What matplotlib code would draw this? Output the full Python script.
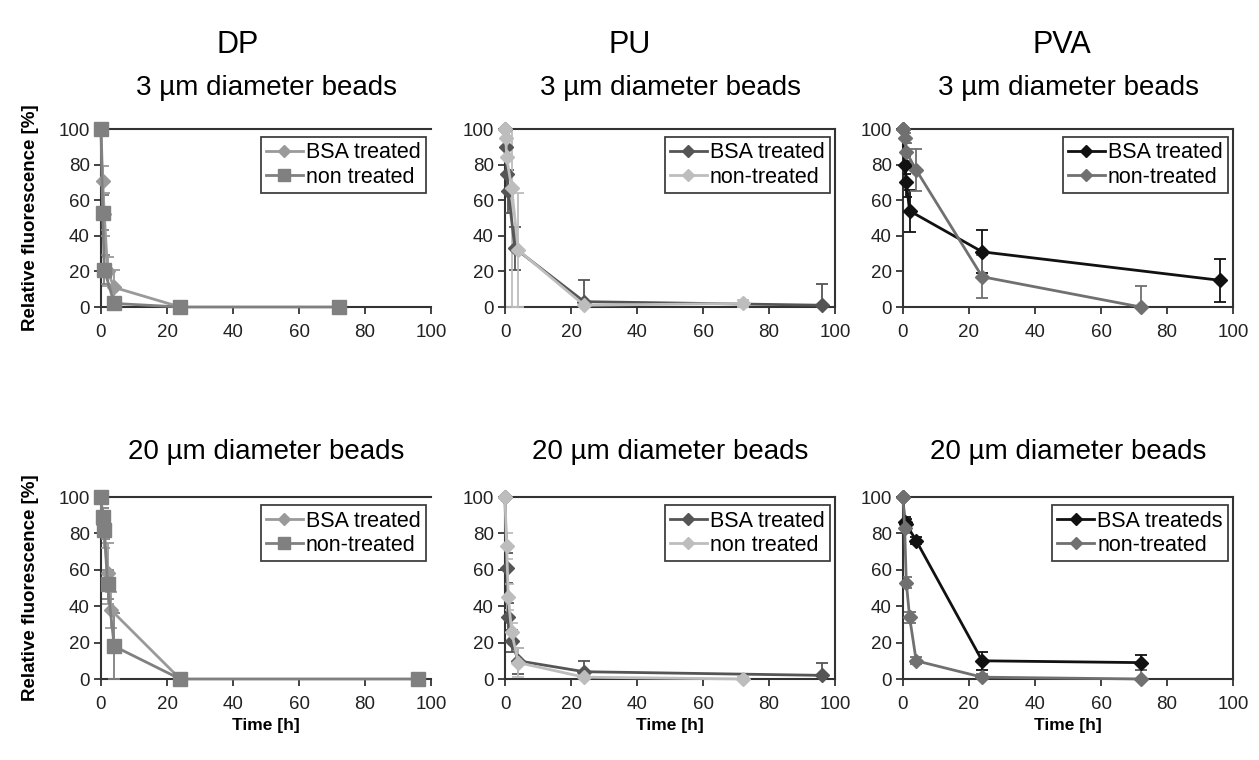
import matplotlib
matplotlib.use("Agg")
import matplotlib.pyplot as plt
from matplotlib.lines import Line2D

plt.rcParams['font.family'] = ['Liberation Sans', 'DejaVu Sans']

# ---------------- data ----------------
columns = ["DP", "PU", "PVA"]
row_titles = ["3 µm diameter beads", "20 µm diameter beads"]

# DP 3 µm
dp3_bsa_t = [0, 0.5, 1, 2, 4, 24]
dp3_bsa_y = [100, 71, 52, 20, 11, 0]
dp3_bsa_e = [0, 8, 12, 8, 10, 0]
dp3_non_t = [0, 0.5, 1, 4, 24, 72]
dp3_non_y = [100, 53, 21, 2, 0, 0]
dp3_non_e = [0, 10, 8, 3, 0, 0]

# DP 20 µm
dp20_bsa_t = [0, 0.5, 1, 2, 3, 24]
dp20_bsa_y = [100, 85, 80, 58, 38, 0]
dp20_bsa_e = [0, 5, 8, 17, 10, 0]
dp20_non_t = [0, 0.5, 1, 2, 4, 24, 96]
dp20_non_y = [100, 89, 82, 52, 18, 0, 0]
dp20_non_e = [0, 5, 5, 8, 18, 0, 0]

# PU 3 µm
pu3_bsa_t = [0, 0.25, 0.5, 1, 3, 24, 96]
pu3_bsa_y = [100, 90, 75, 65, 33, 3, 1]
pu3_bsa_e = [0, 5, 10, 12, 12, 12, 12]
pu3_non_t = [0, 0.25, 0.5, 2, 4, 24, 72]
pu3_non_y = [100, 95, 84, 67, 32, 1, 2]
pu3_non_e = [0, 5, 10, 67, 32, 2, 2]

# PU 20 µm
pu20_bsa_t = [0, 0.5, 1, 2, 4, 24, 96]
pu20_bsa_y = [100, 61, 34, 21, 10, 4, 2]
pu20_bsa_e = [0, 8, 8, 6, 7, 6, 7]
pu20_non_t = [0, 0.5, 1, 2, 4, 24, 72]
pu20_non_y = [100, 73, 45, 26, 9, 1, 0]
pu20_non_e = [0, 7, 7, 5, 8, 2, 1]

# PVA 3 µm
pva3_bsa_t = [0, 0.5, 1, 2, 24, 96]
pva3_bsa_y = [100, 80, 70, 54, 31, 15]
pva3_bsa_e = [0, 5, 8, 12, 12, 12]
pva3_non_t = [0, 0.5, 1, 4, 24, 72]
pva3_non_y = [100, 95, 87, 77, 17, 0]
pva3_non_e = [0, 3, 5, 12, 12, 12]

# PVA 20 µm
pva20_bsa_t = [0, 0.5, 1, 4, 24, 72]
pva20_bsa_y = [100, 86, 85, 76, 10, 9]
pva20_bsa_e = [0, 3, 3, 2, 5, 4]
pva20_non_t = [0, 0.5, 1, 2, 4, 24, 72]
pva20_non_y = [100, 83, 53, 34, 10, 1, 0]
pva20_non_e = [0, 3, 3, 3, 2, 2, 5]

ticks = [0, 20, 40, 60, 80, 100]

labels = {
    (0, 0): ("BSA treated", "non treated"),
    (0, 1): ("BSA treated", "non-treated"),
    (0, 2): ("BSA treated", "non-treated"),
    (1, 0): ("BSA treated", "non-treated"),
    (1, 1): ("BSA treated", "non treated"),
    (1, 2): ("BSA treateds", "non-treated"),
}

panels = {
    (0, 0): [(dp3_bsa_t, dp3_bsa_y, dp3_bsa_e, "#9a9a9a", "D", 7),
             (dp3_non_t, dp3_non_y, dp3_non_e, "#808080", "s", 10)],
    (0, 1): [(pu3_bsa_t, pu3_bsa_y, pu3_bsa_e, "#555555", "D", 7),
             (pu3_non_t, pu3_non_y, pu3_non_e, "#bdbdbd", "D", 7)],
    (0, 2): [(pva3_bsa_t, pva3_bsa_y, pva3_bsa_e, "#111111", "D", 7),
             (pva3_non_t, pva3_non_y, pva3_non_e, "#707070", "D", 7)],
    (1, 0): [(dp20_bsa_t, dp20_bsa_y, dp20_bsa_e, "#9a9a9a", "D", 7),
             (dp20_non_t, dp20_non_y, dp20_non_e, "#808080", "s", 10)],
    (1, 1): [(pu20_bsa_t, pu20_bsa_y, pu20_bsa_e, "#555555", "D", 7),
             (pu20_non_t, pu20_non_y, pu20_non_e, "#bdbdbd", "D", 7)],
    (1, 2): [(pva20_bsa_t, pva20_bsa_y, pva20_bsa_e, "#111111", "D", 7),
             (pva20_non_t, pva20_non_y, pva20_non_e, "#707070", "D", 7)],
}

# ---------------- figure ----------------
W, H = 1259, 760
fig = plt.figure(figsize=(W / 100, H / 100), dpi=100)

col_left_px = [101, 505, 903]
col_width_px = 330
row_top_px = [129, 497]
row_bot_px = [307, 679]
title_y_px = [88, 452]

for (r, c), series in panels.items():
    left = col_left_px[c] / W
    bottom = 1 - row_bot_px[r] / H
    height = (row_bot_px[r] - row_top_px[r]) / H
    ax = fig.add_axes([left, bottom, col_width_px / W, height])
    handles = []
    for (t, y, e, color, mk, ms), lab in zip(series, labels[(r, c)]):
        eb = ax.errorbar(t, y, yerr=e, color=color, marker=mk, markersize=ms,
                         linewidth=2, elinewidth=1.3, capsize=4, capthick=1.3,
                         zorder=3)
        eb[0].set_clip_on(False)
        handles.append(Line2D([], [], color=color, marker=mk,
                              markersize=ms * 0.85, linewidth=2, label=lab))
    ax.set_xlim(0, 100)
    ax.set_ylim(0, 100)
    ax.set_xticks(ticks)
    ax.set_yticks(ticks)
    ax.tick_params(direction='out', length=5, width=1.2, labelsize=13.5,
                   colors='#222222', pad=3)
    ax.tick_params(axis='x', pad=7)
    for sp in ax.spines.values():
        sp.set_color('#333333')
        sp.set_linewidth(1.5)
    if c == 0:
        ax.spines['right'].set_visible(False)
    leg = ax.legend(handles=handles, loc='upper right', fontsize=15.5,
                    frameon=True, fancybox=False, edgecolor='#111111',
                    handlelength=1.7, handletextpad=0.15,
                    borderpad=0.25, labelspacing=0.15, borderaxespad=0.0,
                    bbox_to_anchor=(0.985, 0.955))
    leg.get_frame().set_linewidth(1.3)
    xc = (col_left_px[c] + col_width_px / 2) / W
    fig.text(xc, 1 - title_y_px[r] / H, row_titles[r], ha='center',
             va='center', fontsize=20)
    if c == 0:
        ax.set_ylabel("Relative fluorescence [%]", fontsize=13.5,
                      fontweight='bold', labelpad=14)
    if r == 1:
        ax.set_xlabel("Time [h]", fontsize=12.5, fontweight='bold', labelpad=4)

title_x_px = [238, 630, 1062]
for c, name in enumerate(columns):
    fig.text(title_x_px[c] / W, 1 - 45 / H, name, ha='center', va='center',
             fontsize=22)

fig.savefig("out.png", dpi=100, facecolor='white')
